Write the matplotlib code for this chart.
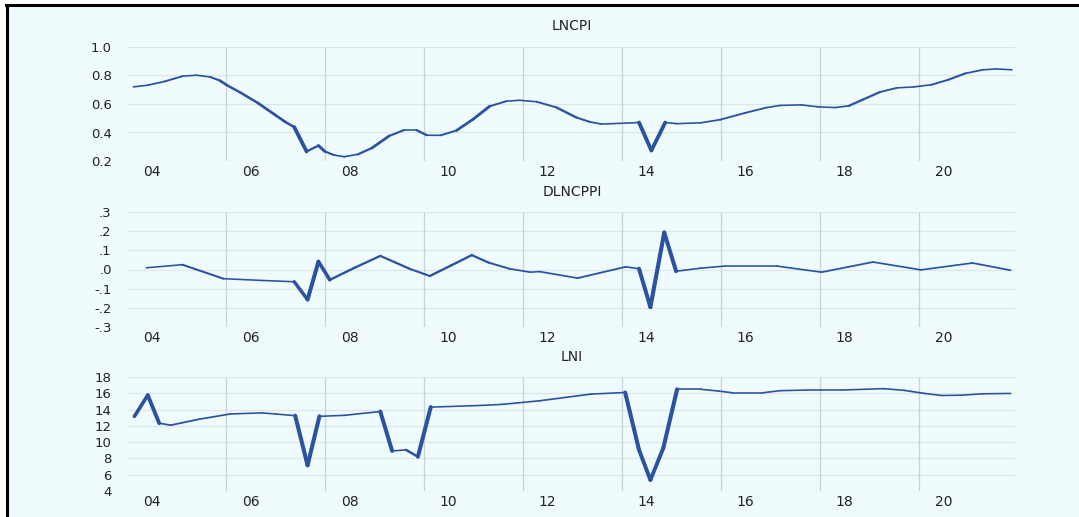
import numpy as np
import matplotlib
matplotlib.use("Agg")
import matplotlib.pyplot as plt
from matplotlib.collections import LineCollection

# LNCPI
cpi_dates = [2004.13, 2004.42, 2004.77, 2005.12, 2005.40, 2005.68, 2005.88, 2006.02,
             2006.30, 2006.65, 2007.00, 2007.20, 2007.38, 2007.63, 2007.87, 2008.00,
             2008.18, 2008.39, 2008.67, 2008.95, 2009.30, 2009.60, 2009.85, 2010.06,
             2010.34, 2010.66, 2011.00, 2011.33, 2011.67, 2011.94, 2012.28, 2012.68,
             2013.08, 2013.35, 2013.59, 2013.96, 2014.35, 2014.60, 2014.88, 2015.12,
             2015.60, 2015.99, 2016.50, 2016.93, 2017.20, 2017.62, 2017.97, 2018.31,
             2018.59, 2018.87, 2019.22, 2019.56, 2019.91, 2020.26, 2020.60, 2020.95,
             2021.30, 2021.57, 2021.89]
cpi_vals = [0.720, 0.732, 0.759, 0.795, 0.802, 0.790, 0.764, 0.732,
            0.679, 0.606, 0.522, 0.474, 0.438, 0.267, 0.308, 0.267,
            0.242, 0.230, 0.247, 0.291, 0.376, 0.417, 0.417, 0.381,
            0.380, 0.414, 0.494, 0.584, 0.620, 0.626, 0.616, 0.576,
            0.506, 0.475, 0.459, 0.464, 0.470, 0.274, 0.470, 0.462,
            0.468, 0.490, 0.538, 0.575, 0.590, 0.594, 0.580, 0.575,
            0.587, 0.630, 0.684, 0.713, 0.720, 0.735, 0.770, 0.815,
            0.840, 0.846, 0.840]

# DLNCPPI
dcpi_dates = [2004.39, 2005.12, 2005.95, 2006.72, 2007.38, 2007.65, 2007.87, 2008.10,
              2008.60, 2009.12, 2009.43, 2009.71, 2010.12, 2010.55, 2010.97, 2011.31,
              2011.73, 2012.15, 2012.34, 2013.11, 2014.08, 2014.35, 2014.58, 2014.86,
              2015.10, 2015.60, 2016.09, 2017.13, 2018.04, 2019.08, 2020.05, 2021.09,
              2021.86]
dcpi_vals = [0.009, 0.025, -0.048, -0.057, -0.064, -0.157, 0.041, -0.054,
             0.009, 0.071, 0.036, 0.004, -0.034, 0.021, 0.075, 0.036,
             0.004, -0.014, -0.011, -0.045, 0.014, 0.004, -0.196, 0.193,
             -0.009, 0.007, 0.018, 0.018, -0.014, 0.039, -0.002, 0.034,
             -0.004]

# LNI
lni_dates = [2004.15, 2004.42, 2004.65, 2004.88, 2005.47, 2006.09, 2006.72, 2007.00,
             2007.40, 2007.65, 2007.89, 2008.39, 2009.12, 2009.36, 2009.64, 2009.88,
             2010.14, 2011.17, 2011.59, 2012.34, 2013.38, 2014.07, 2014.35, 2014.58,
             2014.84, 2015.12, 2015.60, 2015.95, 2016.23, 2016.86, 2017.20, 2017.76,
             2018.46, 2019.29, 2019.71, 2020.12, 2020.47, 2020.88, 2021.30, 2021.86]
lni_vals = [13.17, 15.77, 12.33, 12.08, 12.83, 13.46, 13.59, 13.46,
            13.25, 7.16, 13.17, 13.29, 13.76, 8.92, 9.05, 8.21,
            14.30, 14.51, 14.64, 15.08, 15.90, 16.10, 9.05, 5.35,
            9.26, 16.49, 16.49, 16.28, 16.07, 16.07, 16.32, 16.40,
            16.40, 16.57, 16.36, 15.98, 15.73, 15.77, 15.94, 15.98]

year_ticks = [2004.5, 2006.5, 2008.5, 2010.5, 2012.5, 2014.5, 2016.5, 2018.5, 2020.5]
year_labels = ["04", "06", "08", "10", "12", "14", "16", "18", "20"]
grid_years = [2006, 2008, 2010, 2012, 2014, 2016, 2018, 2020]

BG = "#f0fbfd"
LINE = "#2a52a0"
W, H = 1079, 517

fig = plt.figure(figsize=(W / 100, H / 100), dpi=100)
fig.patch.set_facecolor(BG)

# white strip above the frame and the frame lines
fig.patches.append(plt.Rectangle((0, 1 - 4 / H), 1, 4 / H, transform=fig.transFigure,
                                 facecolor="white", edgecolor="none", zorder=0))
fig.patches.append(plt.Rectangle((0, 0), 6 / W, 1, transform=fig.transFigure,
                                 facecolor="white", edgecolor="none", zorder=0))
fig.add_artist(plt.Line2D([6 / W, 1], [1 - 5 / H, 1 - 5 / H], color="black", lw=2.2,
                          transform=fig.transFigure))
fig.add_artist(plt.Line2D([7 / W, 7 / W], [0, 1 - 5 / H], color="black", lw=2.2,
                          transform=fig.transFigure))


def draw_series(ax, x, y, base=1.15, stretch=2.6):
    # steep segments get thicker, flat ones stay thin
    pts = ax.transData.transform(np.column_stack([x, y]))
    d = np.diff(pts, axis=0)
    ln = np.hypot(d[:, 0], d[:, 1])
    widths = base * np.hypot(d[:, 0], stretch * d[:, 1]) / ln
    segs = np.stack([np.column_stack([x, y])[:-1], np.column_stack([x, y])[1:]], axis=1)
    lc = LineCollection(segs, linewidths=widths, colors=LINE, capstyle="round",
                        joinstyle="round", zorder=3)
    ax.add_collection(lc)


def make_panel(top, bottom, title, title_y, x, y, ylim, yticks, ylabels):
    ax = fig.add_axes([127 / W, 1 - bottom / H, (1015 - 127) / W, (bottom - top) / H])
    ax.set_facecolor(BG)
    ax.set_xlim(2004.0, 2021.95)
    ax.set_ylim(*ylim)
    for s in ax.spines.values():
        s.set_visible(False)
    ax.set_xticks(year_ticks)
    ax.set_xticklabels(year_labels)
    ax.set_yticks(yticks)
    ax.set_yticklabels(ylabels)
    ax.tick_params(axis="x", length=0, pad=3, labelsize=10, labelcolor="#222222")
    ax.tick_params(axis="y", length=0, pad=11, labelsize=9.5, labelcolor="#222222")
    ax.grid(axis="y", color="#dde6ea", lw=0.9)
    ax.vlines(grid_years, ylim[0], ylim[1], color="#c9d2d8", lw=0.9, zorder=1)
    ax.set_axisbelow(True)
    draw_series(ax, x, y)
    fig.text(572 / W, 1 - title_y / H, title, ha="center", va="center",
             fontsize=10, color="#222222")
    return ax


make_panel(47, 161, "LNCPI", 26, cpi_dates, cpi_vals, (0.2, 1.0),
           [0.2, 0.4, 0.6, 0.8, 1.0], ["0.2", "0.4", "0.6", "0.8", "1.0"])
make_panel(212, 327, "DLNCPPI", 192, dcpi_dates, dcpi_vals, (-0.3, 0.3),
           [-0.3, -0.2, -0.1, 0.0, 0.1, 0.2, 0.3],
           ["-.3", "-.2", "-.1", ".0", ".1", ".2", ".3"])
make_panel(377, 491, "LNI", 357, lni_dates, lni_vals, (4, 18),
           [4, 6, 8, 10, 12, 14, 16, 18], ["4", "6", "8", "10", "12", "14", "16", "18"])

fig.savefig("out.png", dpi=100, facecolor=fig.get_facecolor())
